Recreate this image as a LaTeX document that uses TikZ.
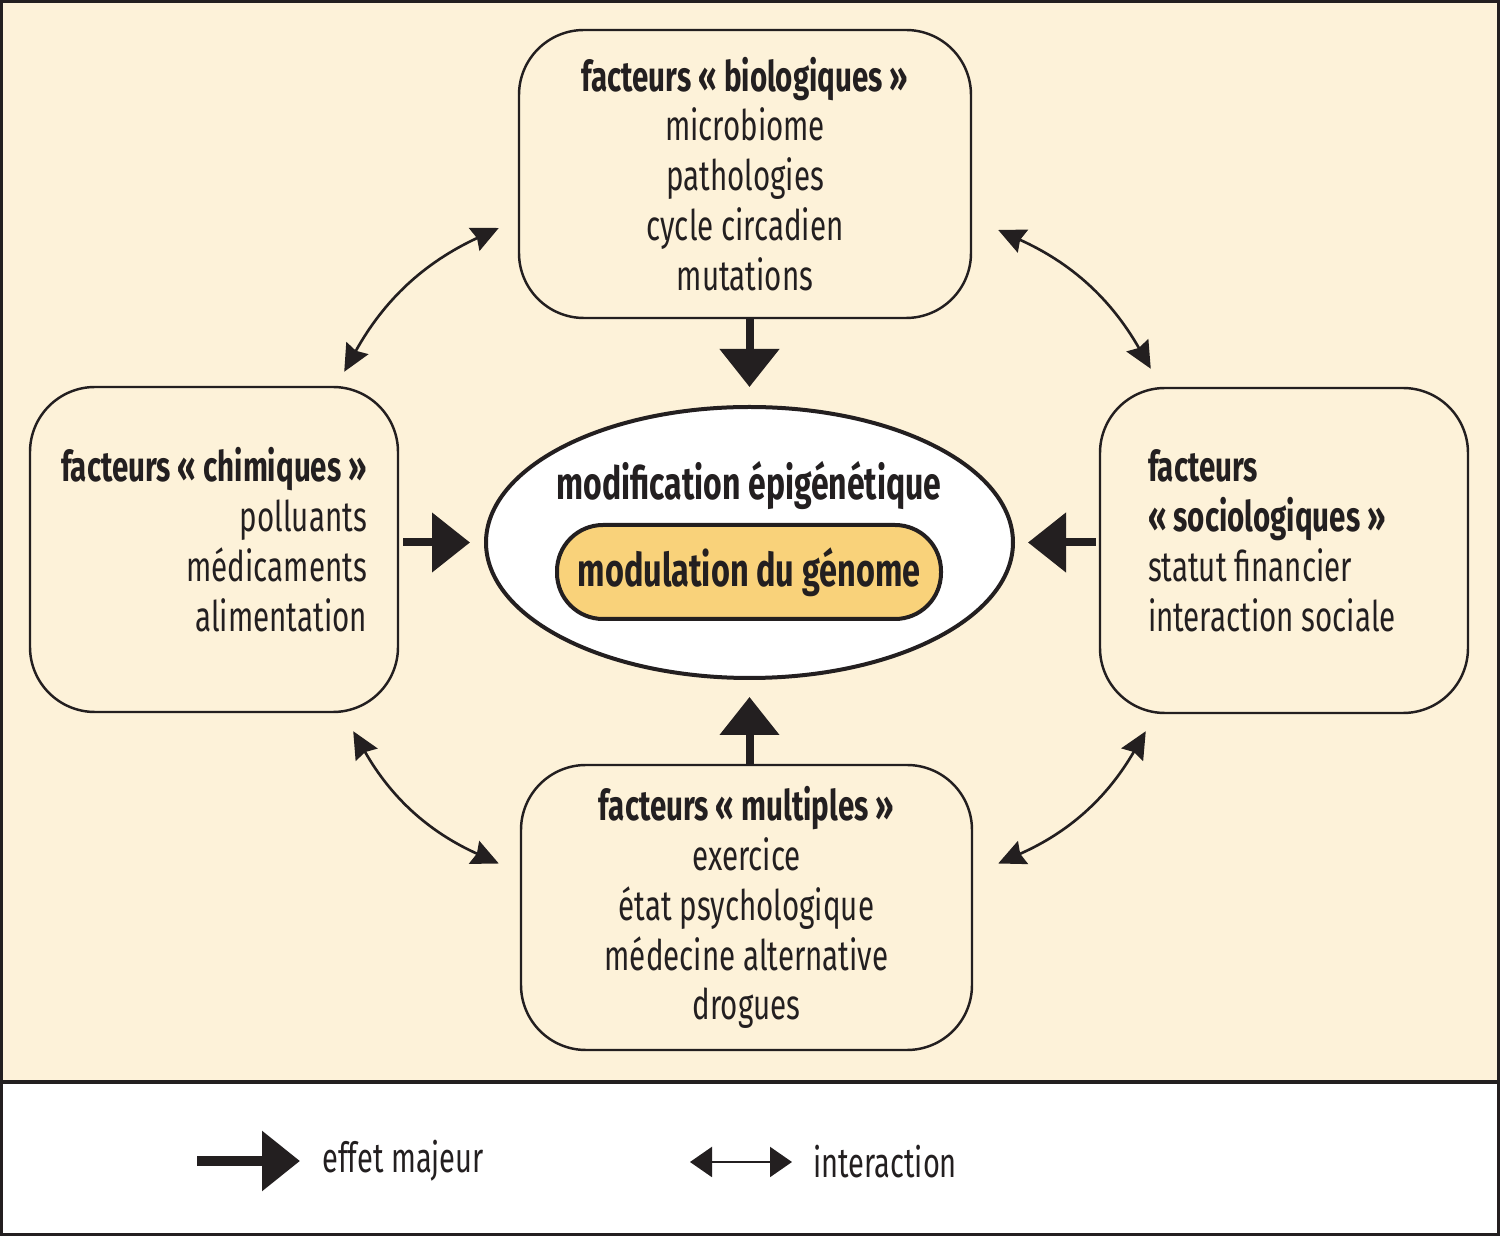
\documentclass[tikz,border=0pt]{standalone}
\usepackage{fontspec}
\setmainfont{Fira Sans}[FakeStretch=0.7]
\usepackage{xcolor}
\usetikzlibrary{shapes, arrows.meta, positioning}
\definecolor{fond}{RGB}{253,242,217}
\definecolor{jaune}{RGB}{249,210,122}
\definecolor{trait}{RGB}{35,31,32}

\begin{document}
\begin{tikzpicture}[
        facteur/.style={draw=trait, line width=0.7pt, rectangle, rounded corners=0.65cm, text=trait, font=\fontsize{12}{14.2}\selectfont},
        effet/.style={draw=trait, line width=0.08cm, -{Triangle[width=0.58cm, length=0.38cm]}},
        interaction/.style={draw=trait, line width=0.75pt, {Stealth[length=0.27cm, width=0.25cm, inset=0.03cm]}-{Stealth[length=0.27cm, width=0.25cm, inset=0.03cm]}},
        legende/.style={text=trait, font=\fontsize{11.8}{14}\selectfont, anchor=west}
    ]
    \useasboundingbox (0,0) rectangle (15,-12.36);
    \fill[fond] (0,0) rectangle (15,-10.82);
    \fill[white] (0,-10.82) rectangle (15,-12.36);
    \draw[trait, line width=0.03cm] (0.015,-0.015) rectangle (14.985,-12.345);
    \draw[trait, line width=0.04cm] (0,-10.82) -- (15,-10.82);

    \node[facteur, minimum width=4.52cm, minimum height=2.88cm, align=center] (bio) at (7.45,-1.74) {
        \textbf{facteurs «~biologiques~»}\\
        microbiome\\
        pathologies\\
        cycle circadien\\
        mutations
    };
    \node[facteur, minimum width=3.68cm, minimum height=3.25cm, align=right] (chim) at (2.14,-5.495) {
        \textbf{facteurs «~chimiques~»}\\
        polluants\\
        médicaments\\
        alimentation\\[-0.3cm]
    };
    \node[facteur, minimum width=3.68cm, minimum height=3.25cm, text width=2.72cm, inner xsep=0.48cm, align=flush left] (socio) at (12.84,-5.505) {
        \textbf{facteurs}\\
        \textbf{«~sociologiques~»}\\
        statut financier\\
        interaction sociale\par\vspace*{0.2cm}
    };
    \node[facteur, minimum width=4.51cm, minimum height=2.85cm, align=center] (mult) at (7.465,-9.075) {
        \textbf{facteurs «~multiples~»}\\
        exercice\\
        état psychologique\\
        médecine alternative\\
        drogues
    };

    \node[draw=trait, fill=white, ellipse, line width=0.04cm, minimum width=5.27cm, minimum height=2.71cm] (epi) at (7.495,-5.425) {};
    \node[text=trait, font=\bfseries\fontsize{13}{15}\selectfont] (epitxt) at (7.49,-4.86) {modification épigénétique};
    \node[draw=trait, fill=jaune, line width=0.04cm, rectangle, rounded corners=0.46cm, minimum width=3.84cm, minimum height=0.94cm, text=trait, font=\bfseries\fontsize{13.2}{15}\selectfont] (genome) at (7.49,-5.72) {modulation du génome};

    \draw[effet, shorten >=0.18cm] (epi.north |- bio.south) -- (epi.north);
    \draw[effet, shorten >=0.17cm] (epi.south |- mult.north) -- (epi.south);
    \draw[effet, shorten <=0.04cm, shorten >=0.14cm] (chim.east |- epi.west) -- (epi.west);
    \draw[effet, shorten <=0.03cm, shorten >=0.13cm] (socio.west |- epi.east) -- (epi.east);

    \draw[interaction] ([shift={(-0.55,0.14)}]chim.north east) to[bend left=18] ([shift={(-0.19,-0.54)}]bio.west);
    \draw[interaction] ([shift={(0.26,-0.56)}]bio.east) to[bend left=18] ([shift={(0.52,0.18)}]socio.north west);
    \draw[interaction] ([shift={(-0.46,-0.18)}]chim.south east) to[bend right=18] ([shift={(-0.21,0.44)}]mult.west);
    \draw[interaction] ([shift={(0.25,0.44)}]mult.east) to[bend right=18] ([shift={(0.47,-0.17)}]socio.south west);

    \coordinate (effetA) at (1.97,-11.61);
    \coordinate (effetB) at (3.00,-11.61);
    \draw[effet, line width=0.1cm] (effetA) -- (effetB);
    \node[legende] (effettxt) at (3.10,-11.61) {effet majeur};
    \coordinate (interA) at (6.90,-11.62);
    \coordinate (interB) at (7.92,-11.62);
    \draw[trait, line width=0.6pt, {Triangle[length=0.22cm, width=0.3cm]}-{Triangle[length=0.22cm, width=0.3cm]}] (interA) -- (interB);
    \node[legende] (intertxt) at (8.01,-11.62) {interaction};
\end{tikzpicture}
\end{document}
